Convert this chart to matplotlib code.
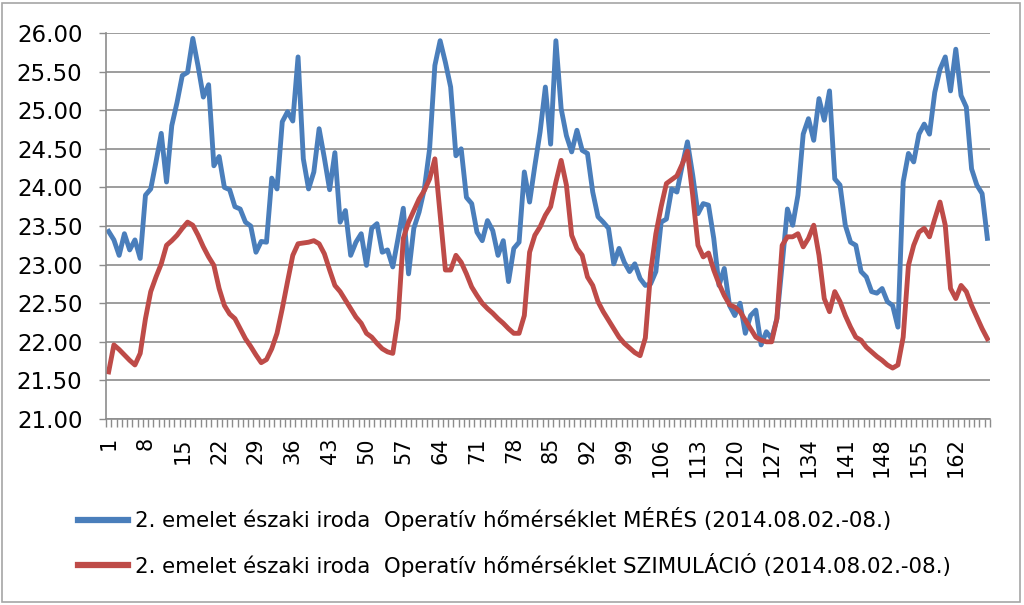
import numpy as np
import matplotlib
matplotlib.use("Agg")
import matplotlib.pyplot as plt
from matplotlib.patches import Rectangle
from matplotlib.ticker import FixedLocator, MultipleLocator, FormatStrFormatter

hours = list(range(1, 169))

meres = [
    23.43, 23.32, 23.12, 23.40, 23.19, 23.32, 23.08, 23.90, 23.98, 24.33,
    24.70, 24.07, 24.80, 25.10, 25.45, 25.49, 25.93, 25.57, 25.17, 25.33,
    24.28, 24.40, 24.00, 23.97, 23.75, 23.72, 23.55, 23.50, 23.16, 23.30,
    23.29, 24.12, 23.98, 24.85, 24.98, 24.86, 25.69, 24.37, 23.98, 24.20,
    24.76, 24.38, 23.97, 24.45, 23.55, 23.70, 23.12, 23.29, 23.40, 22.99,
    23.47, 23.53, 23.16, 23.19, 22.97, 23.34, 23.73, 22.88, 23.47, 23.68,
    23.98, 24.50, 25.58, 25.90, 25.62, 25.30, 24.41, 24.50, 23.87, 23.79,
    23.42, 23.31, 23.57, 23.44, 23.12, 23.31, 22.78, 23.21, 23.29, 24.20,
    23.81, 24.28, 24.72, 25.30, 24.56, 25.90, 25.02, 24.67, 24.46, 24.74,
    24.48, 24.44, 23.94, 23.62, 23.55, 23.47, 23.01, 23.21, 23.03, 22.91,
    23.01, 22.82, 22.73, 22.75, 22.91, 23.55, 23.59, 23.98, 23.94, 24.28,
    24.59, 24.16, 23.66, 23.79, 23.77, 23.34, 22.73, 22.95, 22.47, 22.34,
    22.50, 22.11, 22.34, 22.41, 21.96, 22.13, 22.04, 22.30, 23.00, 23.72,
    23.51, 23.90, 24.69, 24.89, 24.61, 25.15, 24.87, 25.25, 24.11, 24.03,
    23.51, 23.29, 23.25, 22.91, 22.84, 22.65, 22.63, 22.69, 22.52, 22.47,
    22.19, 24.07, 24.44, 24.33, 24.69, 24.82, 24.69, 25.23, 25.53, 25.69,
    25.25, 25.79, 25.19, 25.04, 24.24, 24.03, 23.92, 23.34,
]

szimulacio = [
    21.61, 21.96, 21.90, 21.83, 21.76, 21.70, 21.85, 22.30, 22.65, 22.84,
    23.01, 23.25, 23.31, 23.38, 23.47, 23.55, 23.51, 23.38, 23.23, 23.10,
    22.99, 22.69, 22.47, 22.36, 22.30, 22.17, 22.04, 21.94, 21.83, 21.73,
    21.77, 21.91, 22.11, 22.43, 22.78, 23.12, 23.27, 23.28, 23.29, 23.31,
    23.27, 23.14, 22.93, 22.73, 22.65, 22.54, 22.43, 22.32, 22.24, 22.11,
    22.06, 21.98, 21.91, 21.87, 21.85, 22.30, 23.34, 23.55, 23.70, 23.85,
    23.96, 24.11, 24.37, 23.65, 22.93, 22.93, 23.12, 23.03, 22.88, 22.71,
    22.60, 22.50, 22.43, 22.37, 22.30, 22.24, 22.17, 22.11, 22.11, 22.34,
    23.16, 23.38, 23.49, 23.64, 23.75, 24.07, 24.35, 24.03, 23.38, 23.21,
    23.12, 22.84, 22.73, 22.52, 22.39, 22.28, 22.17, 22.06, 21.98, 21.92,
    21.86, 21.82, 22.05, 22.90, 23.40, 23.75, 24.05, 24.10, 24.15, 24.30,
    24.47, 23.90, 23.25, 23.10, 23.15, 22.93, 22.75, 22.60, 22.48, 22.45,
    22.39, 22.28, 22.17, 22.06, 22.02, 22.00, 22.00, 22.30, 23.25, 23.36,
    23.36, 23.40, 23.23, 23.34, 23.51, 23.12, 22.56, 22.39, 22.65, 22.52,
    22.34, 22.19, 22.06, 22.02, 21.93, 21.87, 21.81, 21.76, 21.70, 21.66,
    21.70, 22.06, 22.99, 23.25, 23.42, 23.47, 23.36, 23.59, 23.81, 23.51,
    22.69, 22.56, 22.73, 22.65, 22.47, 22.32, 22.17, 22.04,
]

labels = [
    "2. emelet északi iroda  Operatív hőmérséklet MÉRÉS (2014.08.02.-08.)",
    "2. emelet északi iroda  Operatív hőmérséklet SZIMULÁCIÓ (2014.08.02.-08.)",
]
colors = ["#4A7EBB", "#BE4B48"]

plt.rcParams['font.family'] = ['DejaVu Sans']

W, H = 1024, 605
fig = plt.figure(figsize=(W / 100, H / 100), dpi=100)
fig.patch.set_facecolor("white")
ax = fig.add_axes([106 / W, 1 - 419 / H, (990 - 106) / W, (419 - 33) / H])

ax.plot(hours, meres, color=colors[0], lw=3.5, label=labels[0], solid_joinstyle="round")
ax.plot(hours, szimulacio, color=colors[1], lw=3.5, label=labels[1], solid_joinstyle="round")

ax.set_xlim(0.5, len(hours) + 0.5)
ax.set_ylim(21, 26)
ax.yaxis.set_major_locator(MultipleLocator(0.5))
ax.yaxis.set_major_formatter(FormatStrFormatter("%.2f"))
ax.grid(axis="y", color="#8C8C8C", lw=1.2)
ax.set_axisbelow(True)

major = hours[::7]
ax.xaxis.set_major_locator(FixedLocator(major))
ax.set_xticklabels([str(h) for h in major], rotation=90, va="top", ha="center")
ax.xaxis.set_minor_locator(FixedLocator(np.arange(0.5, len(hours) + 1, 1)))
ax.tick_params(axis="x", which="major", length=0, pad=13, labelsize=15)
ax.tick_params(axis="x", which="minor", length=6, width=1, color="#8C8C8C", direction="out")
ax.tick_params(axis="y", length=5, width=1, color="#8C8C8C", pad=12, labelsize=16.5)

for s in ["top", "right"]:
    ax.spines[s].set_visible(False)
for s in ["left", "bottom"]:
    ax.spines[s].set_color("#8C8C8C")
    ax.spines[s].set_linewidth(1.2)

fs = 15.4
handles, labs = ax.get_legend_handles_labels()
leg = fig.legend(handles, labs, loc="center left",
                 bbox_to_anchor=(78 / W, 1 - 542 / H),
                 frameon=False, fontsize=fs, borderpad=0, borderaxespad=0,
                 handlelength=50 / (fs * 100 / 72), handletextpad=0.33,
                 labelspacing=1.0)
for l in leg.get_lines():
    l.set_linewidth(4.5)

fig.add_artist(Rectangle((2 / W, 3 / H), (W - 6) / W, (H - 6) / H,
                         transform=fig.transFigure, fill=False,
                         edgecolor="#A6A6A6", lw=1.2))

fig.savefig("out.png", dpi=100)
